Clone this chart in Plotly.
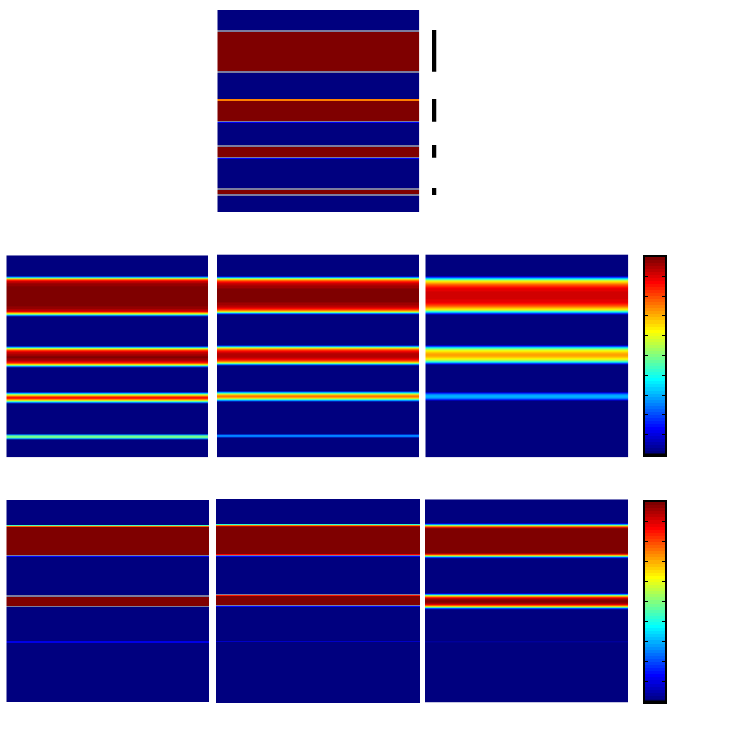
import plotly.graph_objects as go

GREY = 1.05  # blended edge rows, shown greyish in the reference

# Each panel: row edges (counted from the panel's top) and the level of each row
top_edges = [0,20,21.5,61,62.5,89,90.5,111,112,112.7,135,136.5,146.5,147.5,148.5,178,179.5,184,185.5,202]
top_levels = [0,GREY,1,GREY,0,.75,1,GREY,.12,0,GREY,1,GREY,.12,0,GREY,1,GREY,0]

mid1_edges = [0,21,22,23,24,25,26,28,31,51,54,56,57,58,59,60,61,91,92,93,94,95,96,97,99,101,103,105,106,107,108,109,110,111,112,137,138,139,140,141,142,143,144,145,146,147,148,179,180,181,182,183,184,202]
mid1_levels = [0,.2,.42,.66,.8,.88,.94,.98,1,.98,.94,.88,.72,.6,.42,.2,0,.2,.42,.62,.75,.85,.9,.94,.97,1,.97,.94,.9,.85,.75,.62,.42,.2,0,.2,.4,.58,.7,.82,.88,.82,.7,.58,.4,.2,0,.25,.46,.5,.46,.25,0]

mid2_edges = [0,22,23,24,25,26,27,28,29,31,34,48,51,53,54,55,56,57,58,59,60,91,92,93,94,95,96,97,98,99,103,104,105,106,107,108,109,110,111,137,138,139,140,141,142,143,144,145,146,147,180,181,182,183,203]
mid2_levels = [0,.15,.38,.6,.72,.8,.86,.9,.94,.97,1,.97,.94,.9,.86,.8,.72,.6,.38,.15,0,.18,.4,.6,.72,.8,.86,.9,.93,.95,.93,.9,.86,.8,.72,.6,.4,.18,0,.2,.38,.55,.68,.76,.76,.68,.55,.38,.2,0,.2,.3,.2,0]

mid3_edges = [0,22,23,24,25,26,27,28,29,30,31,32,33,34,37,45,48,49,50,51,52,53,54,55,56,57,58,59,60,91,92,93,94,95,96,97,98,99,100,101,102,103,104,105,106,107,108,109,110,138,139,140,141,142,143,144,145,146,203]
mid3_levels = [0,.13,.25,.38,.5,.6,.66,.7,.75,.79,.82,.85,.88,.9,.92,.9,.88,.85,.82,.79,.75,.7,.66,.6,.5,.38,.25,.13,0,.13,.27,.4,.5,.57,.62,.66,.69,.71,.72,.71,.69,.66,.62,.57,.5,.4,.27,.13,0,.13,.22,.28,.3,.3,.28,.22,.13,0]

low1_edges = [0,25,26,27,54.5,55.5,56.5,95,96.5,105.5,107,141,143,202]
low1_levels = [0,.45,.78,1,GREY,.13,0,GREY,1,GREY,0,.1,0]

low2_edges = [0,25,26,27,28,55,56,57,58,95,96,97,106,107,108,142,143,204]
low2_levels = [0,.42,.75,.95,1,.88,GREY,.13,0,GREY,.85,1,GREY,.13,0,.07,0]

low3_edges = [0,24,25,26,27,28,29,54,55,56,57,58,59,94,95,96,97,98,99,100,101,103,104,105,106,107,108,109,110,142,143,203]
low3_levels = [0,.12,.35,.6,.8,.93,1,.93,.8,.6,.35,.12,0,.12,.35,.6,.75,.88,.95,.98,1,.98,.95,.88,.75,.6,.35,.12,0,.04,0]

# Black duration marks beside the top panel (row start, row count)
mark_starts = [20, 89, 135, 178]
mark_lengths = [41.7, 22.7, 12.7, 7]

scale_levels = [0,.016,.031,.047,.063,.078,.094,.109,.125,.141,.156,.172,.188,.203,.219,.234,.25,.266,.281,.297,.313,.328,.344,.359,.375,.391,.406,.422,.438,.453,.469,.484,.5,.516,.531,.547,.563,.578,.594,.609,.625,.641,.656,.672,.688,.703,.719,.734,.75,.766,.781,.797,.813,.828,.844,.859,.875,.891,.906,.922,.938,.953,.969,.984,1]
scale_ticks = [.1,.2,.3,.4,.5,.6,.7,.8,.9]

PAGE = 747
ZMAX = 1.1
jet = [
    [0, "#00007F"], [.125/ZMAX, "#0000FF"], [.375/ZMAX, "#00FFFF"],
    [.5/ZMAX, "#80FF80"], [.625/ZMAX, "#FFFF00"], [.875/ZMAX, "#FF0000"],
    [1/ZMAX, "#7F0000"], [1.02/ZMAX, "#7C7C9E"], [1, "#7C7C9E"],
]

# name: rows, levels, pixel box (left, right, top, bottom)
panels = [
    (top_edges, top_levels, (217.3, 419.3, 10, 212)),
    (mid1_edges, mid1_levels, (6.3, 208, 255.3, 457.3)),
    (mid2_edges, mid2_levels, (217, 419.3, 254.4, 457.2)),
    (mid3_edges, mid3_levels, (425.3, 628.3, 254.4, 457.2)),
    (low1_edges, low1_levels, (6.3, 209, 500, 702.3)),
    (low2_edges, low2_levels, (216, 420, 499, 703)),
    (low3_edges, low3_levels, (425, 628.3, 499.3, 702.7)),
]

fig = go.Figure()
layout = {}
shapes = []
n = 0


def axes(box, **extra):
    global n
    n += 1
    s = "" if n == 1 else str(n)
    l, r, t, b = box
    layout[f"xaxis{s}"] = dict(domain=[l / PAGE, r / PAGE], anchor=f"y{s}", visible=False, range=[0, 1])
    yaxis = dict(domain=[1 - b / PAGE, 1 - t / PAGE], anchor=f"x{s}", visible=False)
    yaxis.update(extra)
    layout[f"yaxis{s}"] = yaxis
    return f"x{s}", f"y{s}"


for edges, levels, box in panels:
    assert len(edges) == len(levels) + 1
    xa, ya = axes(box, range=[edges[-1], 0])
    fig.add_trace(go.Heatmap(
        x=[0, 1], y=edges, z=[[v] for v in levels],
        colorscale=jet, zmin=0, zmax=ZMAX, showscale=False, hoverinfo="skip",
        xaxis=xa, yaxis=ya,
    ))

# Duration marks
xa, ya = axes((432, 436.5, 10, 212), range=[202, 0])
fig.add_trace(go.Bar(
    x=[.5] * len(mark_starts), y=mark_lengths, base=mark_starts, width=1,
    marker=dict(color="#000000", line=dict(width=0)), hoverinfo="skip",
    xaxis=xa, yaxis=ya,
))

# Colour scales with ticks on both sides
for box in [(645, 665, 256.5, 454.5), (645, 665, 502, 701.5)]:
    xa, ya = axes(box, range=[0, 1])
    # solid foot closes the hairline gap left above the scale's bottom border
    shapes.append(dict(type="rect", layer="above", xref="paper", yref="paper",
                       x0=(box[0] - 2) / PAGE, x1=(box[1] + 2) / PAGE,
                       y0=1 - (box[3] + 2) / PAGE, y1=1 - (box[3] - 1) / PAGE,
                       fillcolor="#000000", line=dict(width=0)))
    layout[ya.replace("y", "yaxis")].update(
        visible=True, showline=True, linecolor="#000000", linewidth=2, mirror="allticks",
        ticks="inside", ticklen=3, tickwidth=1, tickcolor="#000000",
        tickvals=scale_ticks, showticklabels=False, showgrid=False, zeroline=False,
    )
    layout[xa.replace("x", "xaxis")].update(
        visible=True, showline=True, linecolor="#000000", linewidth=2, mirror=True,
        ticks="", showticklabels=False, showgrid=False, zeroline=False,
    )
    fig.add_trace(go.Heatmap(
        x=[0, 1], y=[i / len(scale_levels) for i in range(len(scale_levels) + 1)],
        z=[[v] for v in scale_levels],
        colorscale=jet, zmin=0, zmax=ZMAX, showscale=False, hoverinfo="skip",
        xaxis=xa, yaxis=ya,
    ))

fig.update_layout(
    width=PAGE, height=PAGE, margin=dict(l=0, r=0, t=0, b=0, pad=0),
    paper_bgcolor="#FFFFFF", plot_bgcolor="rgba(0,0,0,0)", showlegend=False,
    barmode="overlay", shapes=shapes, **layout,
)
fig.write_html("out.html", config=dict(displayModeBar=False),
               post_script="document.body.style.margin='0';")
